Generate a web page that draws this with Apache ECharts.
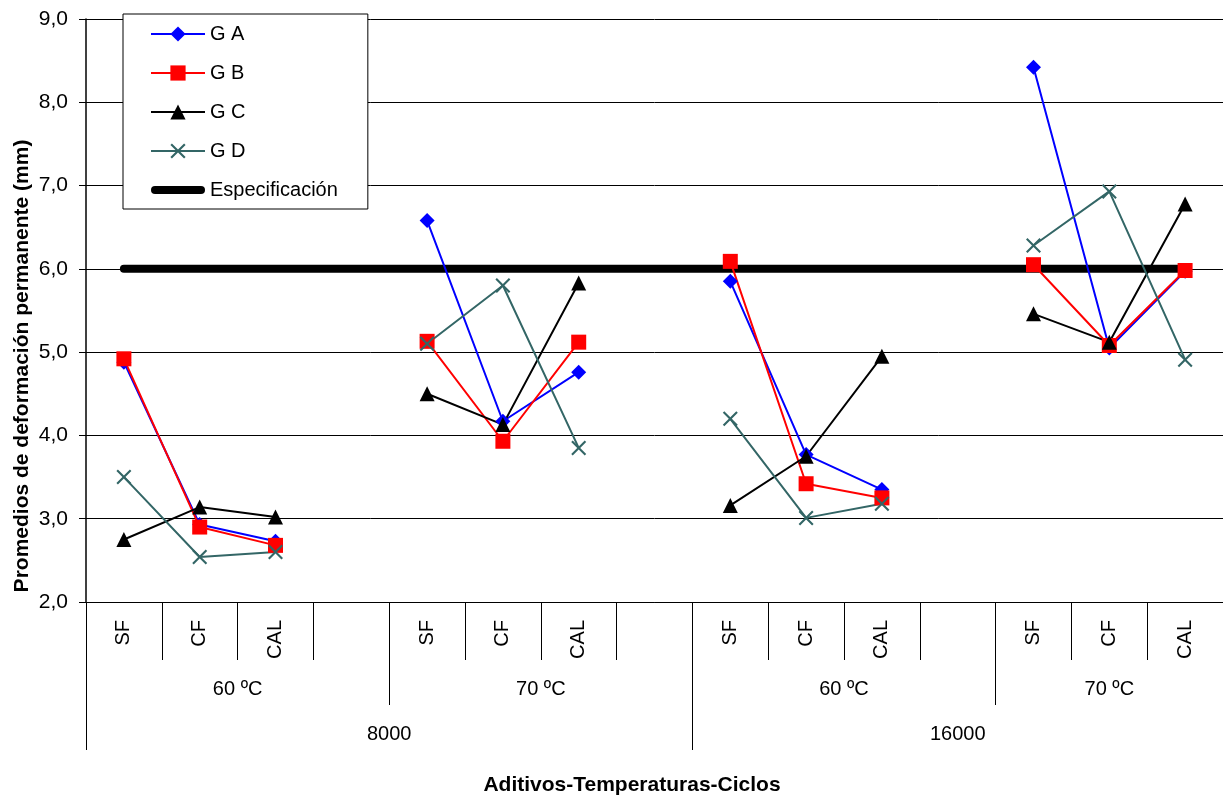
<!DOCTYPE html>
<html>
<head>
<meta charset="utf-8">
<script src="https://cdn.jsdelivr.net/npm/echarts@6/dist/echarts.min.js"></script>
<style>
html,body{margin:0;padding:0;background:#fff;}
#chart{width:1223px;height:798px;}
</style>
</head>
<body>
<div id="chart"></div>
<script>
// ---- data ----
var categories = ['SF','CF','CAL','', 'SF','CF','CAL','', 'SF','CF','CAL','', 'SF','CF','CAL'];
var tempLabels = ['60 ºC','70 ºC','60 ºC','70 ºC'];
var tempSpans = [4, 4, 4, 3];
var cycleLabels = ['8000','16000'];
var cycleSpans = [8, 7];
var yTicks = [2,3,4,5,6,7,8,9];

var gA = [4.88, 2.93, 2.73, null, 6.58, 4.17, 4.76, null, 5.85, 3.77, 3.35, null, 8.42, 5.05, 5.97];
var gB = [4.92, 2.90, 2.68, null, 5.13, 3.93, 5.12, null, 6.09, 3.42, 3.25, null, 6.05, 5.08, 5.98];
var gC = [2.75, 3.14, 3.02, null, 4.50, 4.13, 5.83, null, 3.16, 3.75, 4.95, null, 5.46, 5.12, 6.78];
var gD = [3.50, 2.54, 2.60, null, 5.10, 5.80, 3.85, null, 4.20, 3.01, 3.18, null, 6.28, 6.93, 4.91];
var especificacion = [6,6,6,6,6,6,6,6,6,6,6,6,6,6,6];

// ---- derived group boundaries / centers ----
function spansToBounds(spans){ var b=[0], s=0; spans.forEach(function(v){ s+=v; b.push(s); }); return b; }
var tempBounds = spansToBounds(tempSpans);
var cycleBounds = spansToBounds(cycleSpans);
var tempCenters = tempSpans.map(function(v,i){ return tempBounds[i] + v/2; });
var cycleCenters = cycleSpans.map(function(v,i){ return cycleBounds[i] + v/2; });
var tempTicks = tempBounds.slice(1, -1).filter(function(v){ return cycleBounds.indexOf(v) < 0; });
var cycleTicks = cycleBounds.slice(0, -1);

var FONT = 'Liberation Sans, Arial, sans-serif';
var xMark = 'path://M0,1 L1,0 L5,4 L9,0 L10,1 L6,5 L10,9 L9,10 L5,6 L1,10 L0,9 L4,5 Z';
var thickIcon = 'path://M4,0 L50,0 A4,4 0 0 1 50,8 L4,8 A4,4 0 0 1 4,0 Z';

var chart = echarts.init(document.getElementById('chart'), null, {renderer:'canvas'});

function lineSeries(name, data, color, symbol, size){
  return {
    name: name, type: 'line', data: data, xAxisIndex: 0, yAxisIndex: 0,
    connectNulls: false, symbol: symbol, symbolSize: size, showAllSymbol: true,
    lineStyle: {color: color, width: 2},
    itemStyle: {color: color},
    z: 3
  };
}

var option = {
  animation: false,
  textStyle: {fontFamily: FONT},
  grid: {left: 86, top: 19, right: 0, bottom: 196, containLabel: false},
  legend: {
    orient: 'vertical', left: 123, top: 14,
    backgroundColor: '#fff', borderColor: '#000', borderWidth: 1,
    padding: [10, 30, 9, 27],
    itemWidth: 54, itemHeight: 19, itemGap: 19,
    lineStyle: {width: 2},
    textStyle: {fontSize: 20, lineHeight: 19, color: '#000', fontFamily: FONT},
    data: ['G A','G B','G C','G D', {name: 'Especificación', icon: thickIcon}],
    selectedMode: false
  },
  xAxis: [
    {
      type: 'category', data: categories, boundaryGap: true, position: 'bottom',
      axisLine: {show: true, lineStyle: {color: '#000', width: 1}},
      axisTick: {show: true, interval: 0, length: 58, lineStyle: {color: '#000', width: 1}},
      axisLabel: {interval: 0, rotate: 90, margin: 18, fontSize: 20, color: '#000', fontFamily: FONT},
      splitLine: {show: false}
    },
    {
      type: 'value', min: 0, max: categories.length, position: 'bottom', offset: 0,
      axisLine: {show: false},
      axisTick: {show: true, customValues: tempTicks, length: 103, lineStyle: {color: '#000', width: 1}},
      axisLabel: {show: true, customValues: tempCenters, margin: 77, fontSize: 20, color: '#000', fontFamily: FONT,
        formatter: function(v){ var i = tempCenters.indexOf(v); return i >= 0 ? tempLabels[i] : ''; }},
      splitLine: {show: false}
    },
    {
      type: 'value', min: 0, max: categories.length, position: 'bottom', offset: 0,
      axisLine: {show: false},
      axisTick: {show: true, customValues: cycleTicks, length: 148, lineStyle: {color: '#000', width: 1}},
      axisLabel: {show: true, customValues: cycleCenters, margin: 122, fontSize: 20, color: '#000', fontFamily: FONT,
        formatter: function(v){ var i = cycleCenters.indexOf(v); return i >= 0 ? cycleLabels[i] : ''; }},
      splitLine: {show: false}
    }
  ],
  yAxis: {
    type: 'value', min: yTicks[0], max: yTicks[yTicks.length-1], interval: 1,
    axisLine: {show: true, lineStyle: {color: '#000', width: 1.5}},
    axisTick: {show: true, length: 7, lineStyle: {color: '#000'}},
    axisLabel: {margin: 18, fontSize: 21, color: '#000', fontFamily: FONT,
      formatter: function(v){ return v.toFixed(1).replace('.', ','); }},
    splitLine: {show: true, lineStyle: {color: '#000', width: 1}}
  },
  graphic: [
    {type: 'text', x: 22, y: 366, rotation: Math.PI/2,
     style: {text: 'Promedios de deformación permanente (mm)', font: 'bold 21px ' + FONT, fill: '#000', align: 'center', verticalAlign: 'middle'}},
    {type: 'text', x: 632, y: 785,
     style: {text: 'Aditivos-Temperaturas-Ciclos', font: 'bold 21px ' + FONT, fill: '#000', align: 'center', verticalAlign: 'middle'}}
  ],
  series: [
    {
      name: 'Especificación', type: 'line', data: especificacion, symbol: 'none', showSymbol: false,
      lineStyle: {color: '#000', width: 8, cap: 'round'}, itemStyle: {color: '#000'}, z: 2
    },
    lineSeries('G A', gA, '#0000FF', 'diamond', 15),
    lineSeries('G B', gB, '#FF0000', 'rect', 15),
    lineSeries('G C', gC, '#000000', 'triangle', 15),
    lineSeries('G D', gD, '#336666', xMark, 15)
  ]
};
chart.setOption(option);
</script>
</body>
</html>
